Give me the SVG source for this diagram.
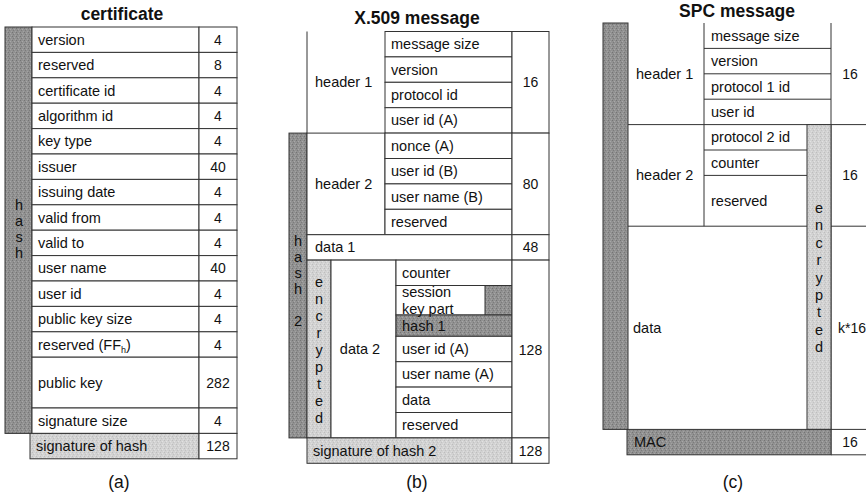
<svg xmlns="http://www.w3.org/2000/svg" width="866" height="500" viewBox="0 0 866 500">
<defs>
<pattern id="dark" width="4" height="4" patternUnits="userSpaceOnUse">
<rect width="4" height="4" fill="#919191"/>
<rect x="0" y="0" width="1" height="1" fill="#747474"/>
<rect x="2" y="1" width="1" height="1" fill="#a8a8a8"/>
<rect x="1" y="2" width="1" height="1" fill="#7b7b7b"/>
<rect x="3" y="3" width="1" height="1" fill="#a2a2a2"/>
</pattern>
<pattern id="light" width="4" height="4" patternUnits="userSpaceOnUse">
<rect width="4" height="4" fill="#d2d2d2"/>
<rect x="0" y="0" width="1" height="1" fill="#bdbdbd"/>
<rect x="2" y="1" width="1" height="1" fill="#e2e2e2"/>
<rect x="1" y="2" width="1" height="1" fill="#c2c2c2"/>
<rect x="3" y="3" width="1" height="1" fill="#dedede"/>
</pattern>
<style>
text{font-family:"Liberation Sans",Arial,sans-serif;font-size:14.5px;fill:#111}
.title{font-size:17.5px;font-weight:bold;text-anchor:middle}
.cap{font-size:17.5px;text-anchor:middle}
.mid{text-anchor:middle}
.cell{fill:#fff;stroke:#333;stroke-width:1}
.drk{fill:url(#dark);stroke:#333;stroke-width:1}
.lgt{fill:url(#light);stroke:#333;stroke-width:1}
.ln{stroke:#333;stroke-width:1;fill:none}
.vl{text-anchor:middle;font-size:14px}
</style>
</defs>
<rect width="866" height="500" fill="#fff"/>

<!-- (a) certificate -->
<g id="certificate">
<text class="title" x="122" y="20">certificate</text>
<g id="a-hash">
<rect class="drk" x="5" y="27" width="27" height="406.4"/>
<text class="mid" x="19" y="210">h</text>
<text class="mid" x="19" y="226">a</text>
<text class="mid" x="19" y="242">s</text>
<text class="mid" x="19" y="258">h</text>
</g>
<g id="a-rows">
<rect class="cell" x="32" y="27" width="167" height="25.4"/><rect class="cell" x="199" y="27" width="38" height="25.4"/>
<rect class="cell" x="32" y="52.4" width="167" height="25.4"/><rect class="cell" x="199" y="52.4" width="38" height="25.4"/>
<rect class="cell" x="32" y="77.8" width="167" height="25.4"/><rect class="cell" x="199" y="77.8" width="38" height="25.4"/>
<rect class="cell" x="32" y="103.2" width="167" height="25.4"/><rect class="cell" x="199" y="103.2" width="38" height="25.4"/>
<rect class="cell" x="32" y="128.6" width="167" height="25.4"/><rect class="cell" x="199" y="128.6" width="38" height="25.4"/>
<rect class="cell" x="32" y="154" width="167" height="25.4"/><rect class="cell" x="199" y="154" width="38" height="25.4"/>
<rect class="cell" x="32" y="179.4" width="167" height="25.4"/><rect class="cell" x="199" y="179.4" width="38" height="25.4"/>
<rect class="cell" x="32" y="204.8" width="167" height="25.4"/><rect class="cell" x="199" y="204.8" width="38" height="25.4"/>
<rect class="cell" x="32" y="230.2" width="167" height="25.4"/><rect class="cell" x="199" y="230.2" width="38" height="25.4"/>
<rect class="cell" x="32" y="255.6" width="167" height="25.4"/><rect class="cell" x="199" y="255.6" width="38" height="25.4"/>
<rect class="cell" x="32" y="281" width="167" height="25.4"/><rect class="cell" x="199" y="281" width="38" height="25.4"/>
<rect class="cell" x="32" y="306.4" width="167" height="25.4"/><rect class="cell" x="199" y="306.4" width="38" height="25.4"/>
<rect class="cell" x="32" y="331.8" width="167" height="25.4"/><rect class="cell" x="199" y="331.8" width="38" height="25.4"/>
<rect class="cell" x="32" y="357.2" width="167" height="50.8"/><rect class="cell" x="199" y="357.2" width="38" height="50.8"/>
<rect class="cell" x="32" y="408" width="167" height="25.4"/><rect class="cell" x="199" y="408" width="38" height="25.4"/>
<rect class="lgt" x="30" y="433.4" width="169" height="25.4"/><rect class="cell" x="199" y="433.4" width="38" height="25.4"/>
<text x="38" y="44.7">version</text><text class="vl" x="218" y="44.7">4</text>
<text x="38" y="70.1">reserved</text><text class="vl" x="218" y="70.1">8</text>
<text x="38" y="95.5">certificate id</text><text class="vl" x="218" y="95.5">4</text>
<text x="38" y="120.9">algorithm id</text><text class="vl" x="218" y="120.9">4</text>
<text x="38" y="146.3">key type</text><text class="vl" x="218" y="146.3">4</text>
<text x="38" y="171.7">issuer</text><text class="vl" x="218" y="171.7">40</text>
<text x="38" y="197.1">issuing date</text><text class="vl" x="218" y="197.1">4</text>
<text x="38" y="222.5">valid from</text><text class="vl" x="218" y="222.5">4</text>
<text x="38" y="247.9">valid to</text><text class="vl" x="218" y="247.9">4</text>
<text x="38" y="273.3">user name</text><text class="vl" x="218" y="273.3">40</text>
<text x="38" y="298.7">user id</text><text class="vl" x="218" y="298.7">4</text>
<text x="38" y="324.1">public key size</text><text class="vl" x="218" y="324.1">4</text>
<text x="38" y="349.5">reserved (FF<tspan font-size="9" dy="3">h</tspan><tspan dy="-3">)</tspan></text><text class="vl" x="218" y="349.5">4</text>
<text x="38" y="387.6">public key</text><text class="vl" x="218" y="387.6">282</text>
<text x="38" y="425.7">signature size</text><text class="vl" x="218" y="425.7">4</text>
<text x="36" y="451.1">signature of hash</text><text class="vl" x="218" y="451.1">128</text>
</g>
<text class="cap" x="119" y="488">(a)</text>
</g>

<!-- (b) X.509 message -->
<g id="x509">
<text class="title" x="417" y="24">X.509 message</text>
<g id="b-hash2">
<rect class="drk" x="289" y="133.1" width="18" height="304.8"/>
<text class="mid" x="298" y="246">h</text>
<text class="mid" x="298" y="262">a</text>
<text class="mid" x="298" y="278">s</text>
<text class="mid" x="298" y="294">h</text>
<text class="mid" x="298" y="326">2</text>
</g>
<g id="b-header1">
<rect x="307" y="31.5" width="78" height="101.6" fill="#fff"/>
<path class="ln" d="M307,31.5 V133.1"/>
<text x="315" y="87.3">header 1</text>
<rect class="cell" x="385" y="31.5" width="127" height="25.4"/>
<rect class="cell" x="385" y="56.9" width="127" height="25.4"/>
<rect class="cell" x="385" y="82.3" width="127" height="25.4"/>
<rect class="cell" x="385" y="107.7" width="127" height="25.4"/>
<rect class="cell" x="512" y="31.5" width="37" height="101.6"/>
<text x="391" y="49.2">message size</text>
<text x="391" y="74.6">version</text>
<text x="391" y="100">protocol id</text>
<text x="391" y="125.4">user id (A)</text>
<text class="vl" x="530.5" y="87.3">16</text>
</g>
<g id="b-header2">
<rect class="cell" x="307" y="133.1" width="78" height="101.6"/>
<text x="315" y="188.9">header 2</text>
<rect class="cell" x="385" y="133.1" width="127" height="25.4"/>
<rect class="cell" x="385" y="158.5" width="127" height="25.4"/>
<rect class="cell" x="385" y="183.9" width="127" height="25.4"/>
<rect class="cell" x="385" y="209.3" width="127" height="25.4"/>
<rect class="cell" x="512" y="133.1" width="37" height="101.6"/>
<text x="391" y="150.8">nonce (A)</text>
<text x="391" y="176.2">user id (B)</text>
<text x="391" y="201.6">user name (B)</text>
<text x="391" y="227">reserved</text>
<text class="vl" x="530.5" y="188.9">80</text>
</g>
<g id="b-data1">
<rect class="cell" x="307" y="234.7" width="205" height="25.4"/>
<rect class="cell" x="512" y="234.7" width="37" height="25.4"/>
<text x="315" y="252.4">data 1</text>
<text class="vl" x="530.5" y="252.4">48</text>
</g>
<g id="b-data2">
<rect class="lgt" x="307" y="260.1" width="24" height="177.8"/>
<text class="mid" x="319" y="287">e</text>
<text class="mid" x="319" y="304">n</text>
<text class="mid" x="319" y="321">c</text>
<text class="mid" x="319" y="338">r</text>
<text class="mid" x="319" y="355">y</text>
<text class="mid" x="319" y="372">p</text>
<text class="mid" x="319" y="389">t</text>
<text class="mid" x="319" y="406">e</text>
<text class="mid" x="319" y="423">d</text>
<rect class="cell" x="331" y="260.1" width="65" height="177.8"/>
<text class="mid" x="360" y="354">data 2</text>
<rect class="cell" x="396" y="260.1" width="116" height="25.4"/>
<rect class="cell" x="396" y="285.5" width="116" height="29.5"/>
<rect class="drk" x="485" y="285.5" width="27" height="29.5"/>
<rect class="drk" x="396" y="315" width="116" height="21.3"/>
<rect class="cell" x="396" y="336.3" width="116" height="25.4"/>
<rect class="cell" x="396" y="361.7" width="116" height="25.4"/>
<rect class="cell" x="396" y="387.1" width="116" height="25.4"/>
<rect class="cell" x="396" y="412.5" width="116" height="25.4"/>
<rect class="cell" x="512" y="260.1" width="37" height="177.8"/>
<text x="402" y="277.8">counter</text>
<text x="402" y="297">session</text>
<text x="402" y="313.5">key part</text>
<text x="402" y="330.6">hash 1</text>
<text x="402" y="354">user id (A)</text>
<text x="402" y="379.4">user name (A)</text>
<text x="402" y="404.8">data</text>
<text x="402" y="430.2">reserved</text>
<text class="vl" x="530.5" y="355">128</text>
</g>
<g id="b-sig">
<rect class="lgt" x="307" y="437.9" width="205" height="25.4"/>
<rect class="cell" x="512" y="437.9" width="37" height="25.4"/>
<text x="313" y="455.6">signature of hash 2</text>
<text class="vl" x="530.5" y="455.6">128</text>
</g>
<text class="cap" x="417" y="488">(b)</text>
</g>

<!-- (c) SPC message -->
<g id="spc">
<text class="title" x="737" y="17">SPC message</text>
<g id="c-mac-bar">
<rect class="drk" x="603" y="23" width="25" height="406.4"/>
</g>
<g id="c-header1">
<path class="ln" d="M628,124.6 H866 M704,23 V226.2 M831,23 V454.8 M704,48.4 H831 M704,73.8 H831 M704,99.2 H831"/>
<text x="636" y="78.8">header 1</text>
<text x="711" y="40.7">message size</text>
<text x="711" y="66.1">version</text>
<text x="711" y="91.5">protocol 1 id</text>
<text x="711" y="116.9">user id</text>
<text class="vl" x="850" y="78.8">16</text>
</g>
<g id="c-header2">
<path class="ln" d="M704,150 H807 M704,175.4 H807 M628,226.2 H807 M831,226.2 H866"/>
<text x="636" y="180.4">header 2</text>
<text x="711" y="142.3">protocol 2 id</text>
<text x="711" y="167.7">counter</text>
<text x="711" y="205.8">reserved</text>
<text class="vl" x="850" y="180.4">16</text>
</g>
<g id="c-encrypted">
<rect class="lgt" x="807" y="124.6" width="24" height="304.8"/>
<text class="mid" x="819" y="213">e</text>
<text class="mid" x="819" y="230.4">n</text>
<text class="mid" x="819" y="247.8">c</text>
<text class="mid" x="819" y="265.2">r</text>
<text class="mid" x="819" y="282.6">y</text>
<text class="mid" x="819" y="300">p</text>
<text class="mid" x="819" y="317.4">t</text>
<text class="mid" x="819" y="334.8">e</text>
<text class="mid" x="819" y="352.2">d</text>
</g>
<g id="c-data">
<text x="633" y="333">data</text>
<text class="vl" x="852" y="333">k*16</text>
</g>
<g id="c-mac">
<rect class="drk" x="627" y="429.4" width="204" height="25.4"/>
<path class="ln" d="M831,429.4 H866 M831,454.8 H866"/>
<text x="634" y="447.1">MAC</text>
<text class="vl" x="850" y="447.1">16</text>
</g>
<text class="cap" x="733" y="488">(c)</text>
</g>
</svg>
